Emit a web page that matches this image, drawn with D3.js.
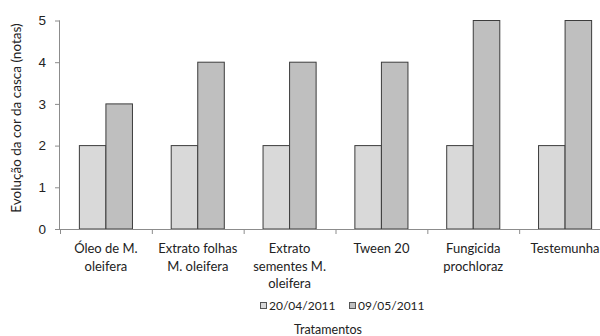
<!DOCTYPE html>
<html>
<head>
<meta charset="utf-8">
<script src="https://cdn.jsdelivr.net/npm/d3@7"></script>
<style>
  html, body { margin: 0; padding: 0; background: #fff; }
  svg { display: block; font-family: Lato, "Open Sans", sans-serif; }
</style>
</head>
<body>
<svg id="chart" width="600" height="336"></svg>
<script>
// Treatments (x-axis categories), each label split into lines
const categories = [
  ["Óleo de M.", "oleifera"],
  ["Extrato folhas", "M. oleifera"],
  ["Extrato", "sementes M.", "oleifera"],
  ["Tween 20"],
  ["Fungicida", "prochloraz"],
  ["Testemunha"]
];
const seriesNames = ["20/04/2011", "09/05/2011"];
const values0 = [2, 2, 2, 2, 2, 2];
const values1 = [3, 4, 4, 4, 5, 5];
const yTicks = [0, 1, 2, 3, 4, 5];
const colors = ["#d9d9d9", "#bfbfbf"];

const svg = d3.select("#chart");
const plotLeft = 60, plotRight = 611, plotTop = 20.5, plotBottom = 229;

const x = d3.scaleBand().domain(d3.range(categories.length)).range([plotLeft, plotRight]).paddingInner(0).paddingOuter(0);
const inner = d3.scaleBand().domain([0, 1]).range([0, x.bandwidth()]).paddingOuter(0.73).paddingInner(0);
const y = d3.scaleLinear().domain([0, 5]).range([plotBottom, plotTop]);

const axisColor = "#8c8c8c";
const textColor = "#222";

// bars
const series = [values0, values1];
series.forEach((vals, s) => {
  svg.append("g").selectAll("rect").data(vals).join("rect")
    .attr("x", (d, i) => x(i) + inner(s))
    .attr("y", d => y(d))
    .attr("width", inner.bandwidth())
    .attr("height", d => y(0) - y(d))
    .attr("fill", colors[s])
    .attr("stroke", "#3c3c3c")
    .attr("stroke-width", 1);
});

// y axis
const yAxis = svg.append("g").attr("transform", `translate(${plotLeft},0)`)
  .call(d3.axisLeft(y).tickValues(yTicks).tickSize(5).tickPadding(9).tickFormat(d3.format("d")));
yAxis.select(".domain").attr("stroke", axisColor).attr("d", `M-0.5,${y(5)}V${y(0)}`);
yAxis.selectAll(".tick line").attr("stroke", axisColor);
yAxis.selectAll(".tick text").attr("fill", textColor).style("font-size", "13.5px");

// x axis baseline with ticks at band edges
const xg = svg.append("g");
xg.append("line").attr("x1", plotLeft).attr("x2", plotRight).attr("y1", plotBottom + 0.5).attr("y2", plotBottom + 0.5).attr("stroke", axisColor);
xg.selectAll("line.tk").data(d3.range(categories.length + 1)).join("line")
  .attr("class", "tk")
  .attr("x1", i => (i < categories.length ? x(i) : plotRight) + 0.5)
  .attr("x2", i => (i < categories.length ? x(i) : plotRight) + 0.5)
  .attr("y1", plotBottom).attr("y2", plotBottom + 5)
  .attr("stroke", axisColor);

// category labels
categories.forEach((lines, i) => {
  const cx = x(i) + x.bandwidth() / 2;
  const t = svg.append("text")
    .attr("x", cx)
    .attr("y", 253)
    .attr("text-anchor", "middle")
    .attr("fill", textColor)
    .style("font-size", "13px");
  lines.forEach((ln, k) => {
    t.append("tspan").attr("x", cx).attr("dy", k === 0 ? 0 : 17.5).text(ln);
  });
});

// legend
const legendItems = [{x: 260, name: seriesNames[0], c: colors[0]}, {x: 349, name: seriesNames[1], c: colors[1]}];
legendItems.forEach(it => {
  svg.append("rect").attr("x", it.x + 0.5).attr("y", 302.5).attr("width", 6).attr("height", 6)
    .attr("fill", it.c).attr("stroke", "#555");
  svg.append("text").attr("x", it.x + 9).attr("y", 310).attr("fill", textColor)
    .style("font-size", "12px").text(it.name);
});

// axis titles
svg.append("text").attr("x", 328).attr("y", 334).attr("text-anchor", "middle")
  .attr("fill", textColor).style("font-size", "12.5px").text("Tratamentos");
svg.append("text").attr("transform", "translate(21,118) rotate(-90)").attr("text-anchor", "middle")
  .attr("fill", textColor).style("font-size", "13.5px").text("Evolução da cor da casca (notas)");
</script>
</body>
</html>
